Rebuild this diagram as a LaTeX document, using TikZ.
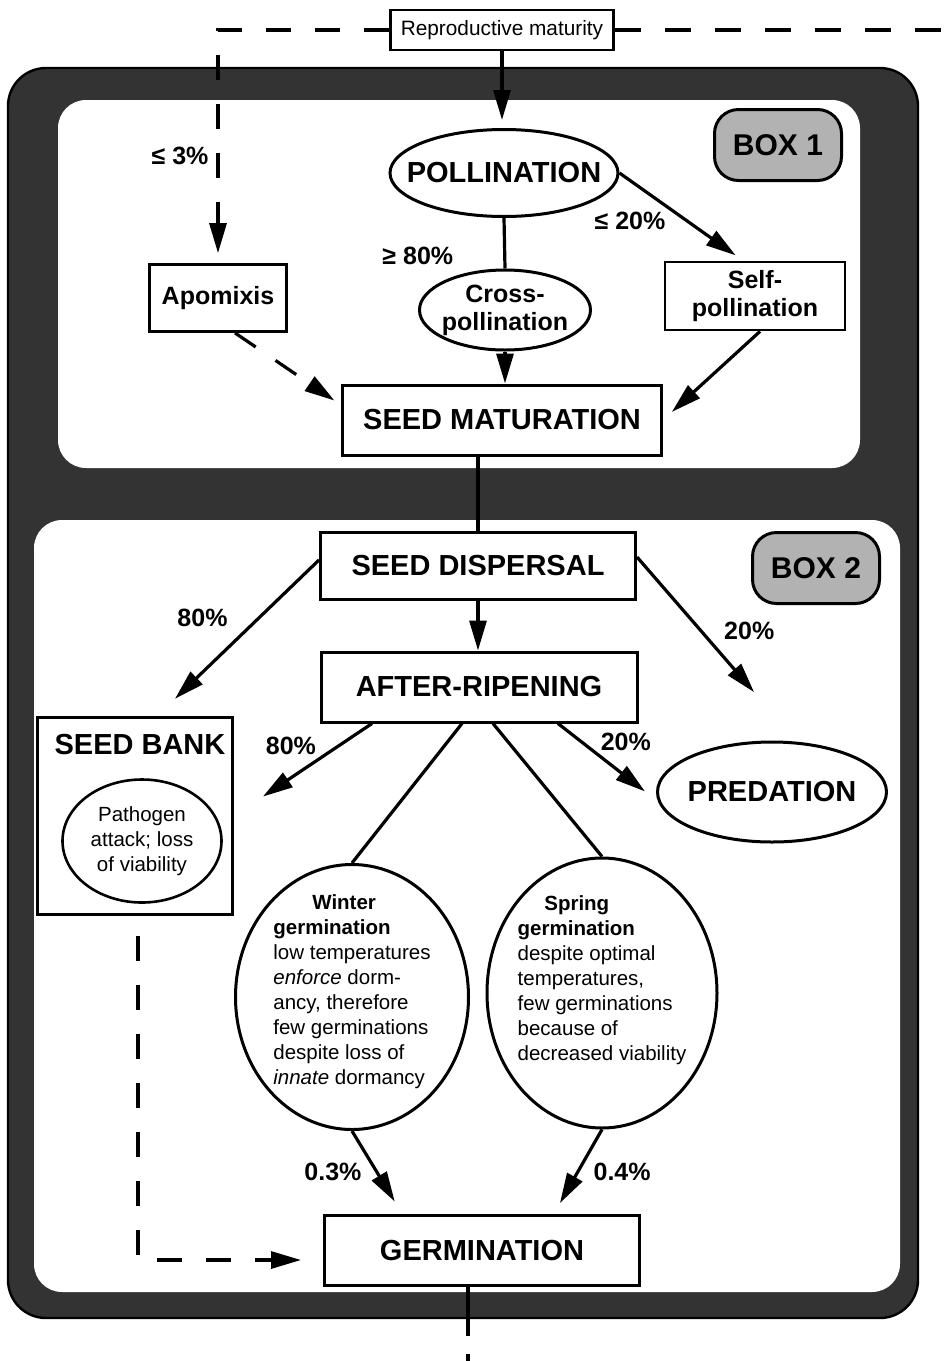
\documentclass[tikz,border=0pt]{standalone}
\usepackage{fontspec}
\setmainfont{Liberation Sans}
\usetikzlibrary{arrows.meta, positioning, shapes}

\begin{document}
\begin{tikzpicture}[
    x=1pt, y=-1pt,
    every node/.style={align=center, inner sep=0pt},
    bigfont/.style={font=\fontsize{29}{34}\selectfont\bfseries},
    midfont/.style={font=\fontsize{25}{28}\selectfont\bfseries},
    smallfont/.style={font=\fontsize{20.5}{25}\selectfont},
    pct/.style={font=\fontsize{25}{28}\selectfont\bfseries, inner sep=2pt},
    darkframe/.style={fill=black!80, draw=black, line width=2.4pt, rounded corners=38pt},
    panel/.style={fill=white, rounded corners=28pt},
    stage/.style={draw, rectangle, line width=3pt, bigfont},
    substage/.style={draw, rectangle, line width=2.8pt, midfont},
    oval/.style={draw, ellipse, line width=3pt},
    boxtag/.style={draw, rounded corners=24pt, fill=black!30, line width=3pt,
                   minimum width=127pt, minimum height=71pt,
                   font=\fontsize{30}{34}\selectfont\bfseries},
    arr/.style={-{Triangle[length=30pt, width=17pt]}, line width=3.2pt},
    dasharr/.style={arr, dash pattern=on 25pt off 24pt},
    dashline/.style={line width=3.2pt, dash pattern=on 26pt off 24pt},
    link/.style={line width=3.2pt}
]
\useasboundingbox (0,0) rectangle (944,1361);
\draw[darkframe] (8,68) rectangle (918,1318);
\fill[panel] (58,100) rectangle (860,468);
\fill[panel] (34,520) rectangle (900,1292);

\node[draw, line width=2.4pt, minimum width=223pt, minimum height=40pt,
      font=\fontsize{20.8}{24}\selectfont] (repro) at (502,30) {Reproductive maturity};
\node[boxtag] (box1) at (778,145) {BOX 1};
\node[boxtag] (box2) at (816,568) {BOX 2};
\node[oval, minimum width=228pt, minimum height=87pt,
      label={[bigfont]center:POLLINATION}] (poll) at (504,173) {};
\node[oval, minimum width=171pt, minimum height=80pt,
      label={[midfont]center:Cross-\\pollination}] (cross) at (505,310) {};
\node[substage, minimum width=137pt, minimum height=67pt] (apomix) at (218,298) {Apomixis};
\node[substage, minimum width=180pt, minimum height=68pt] (self) at (755,296) {Self-\\pollination};
\node[stage, minimum width=319pt, minimum height=70pt] (seedmat) at (502,420) {SEED MATURATION};
\node[stage, minimum width=315pt, minimum height=67pt] (seeddisp) at (478,566) {SEED DISPERSAL};
\node[stage, minimum width=316pt, minimum height=70pt] (afterrip) at (479,687) {AFTER-RIPENING};
\node[draw, line width=2.8pt, minimum width=195pt, minimum height=197pt] (seedbank) at (135,816) {};
\node[bigfont] (banktitle) at (140,745) {SEED BANK};
\node[oval, line width=2.6pt, minimum width=159pt, minimum height=123pt, smallfont]
      (pathogen) at (142,841) {Pathogen\\attack; loss\\of viability};
\node[oval, minimum width=229pt, minimum height=100pt,
      label={[bigfont]center:PREDATION}] (pred) at (772,792) {};
\node[oval, minimum width=233pt, minimum height=265pt,
      label={[smallfont, align=left, yshift=5pt]center:{\hspace*{1.9em}\textbf{Winter}\\
      \textbf{germination}\\low temperatures\\\textit{enforce} dorm-\\ancy, therefore\\
      few germinations\\despite loss of\\\textit{innate} dormancy}}] (winter) at (352,997) {};
\node[oval, minimum width=230pt, minimum height=270pt,
      label={[smallfont, align=left, yshift=13pt]center:{\hspace*{1.3em}\textbf{Spring}\\
      \textbf{germination}\\despite optimal\\temperatures,\\few germinations\\
      because of\\decreased viability}}] (spring) at (602,993) {};
\node[stage, minimum width=315pt, minimum height=70pt] (germ) at (482,1250) {GERMINATION};
\coordinate (rightend) at (944,30);
\coordinate (exit) at (468,1361);

\draw[arr, shorten >=8pt] (repro.south) -- (repro.south |- poll.north);
\draw[dasharr, shorten >=10pt] (repro.west) -| node[pct, left=6pt, pos=0.77] {≤ 3\%} (apomix.north);
\draw[dashline] (repro.east) -- (rightend);
\draw[arr, shorten >=9pt] (poll.east) -- node[pct, below left, pos=0.4] {≤ 20\%} ([xshift=-12pt]self.north);
\draw[link] (poll.south) -- node[pct, left=48pt, pos=0.75] {≥ 80\%} (cross.north);
\draw[arr] (cross.south) -- (cross.south |- seedmat.north);
\draw[dasharr, shorten >=8pt] ([xshift=17pt]apomix.south) -- ([yshift=15pt]seedmat.west);
\draw[arr, shorten >=12pt] ([xshift=5pt]self.south) -- (seedmat.east);
\draw[link] (seedmat.south -| seeddisp.north) -- (seeddisp.north);
\draw[arr] (seeddisp.south) -- (seeddisp.south |- afterrip.north);
\draw[arr, shorten >=25pt] ([yshift=6pt]seeddisp.west) -- node[pct, above left, pos=0.45, xshift=-15pt] {80\%} ([xshift=22pt]seedbank.north);
\draw[arr, shorten >=64pt] ([yshift=9pt]seeddisp.east) -- node[pct, right=20pt, pos=0.4] {20\%} ([xshift=24pt]pred.north);
\draw[arr, shorten >=35pt] ([xshift=-107pt]afterrip.south) -- node[pct, above left, pos=0.38] {80\%} (seedbank.east);
\draw[arr, shorten >=14pt] ([xshift=79pt]afterrip.south) -- node[pct, above right, pos=0.4] {20\%} ([yshift=-8pt]pred.west);
\draw[link] ([xshift=-17pt]afterrip.south) -- (winter.north);
\draw[link] ([xshift=14pt]afterrip.south) -- (spring.north);
\draw[arr, shorten >=14pt] (winter.south) -- node[pct, left=12pt, pos=0.5] {0.3\%} ([xshift=-80pt]germ.north);
\draw[arr, shorten >=12pt] (spring.south) -- node[pct, right=12pt, pos=0.5] {0.4\%} ([xshift=72pt]germ.north);
\draw[dasharr, shorten <=20pt, shorten >=22pt] ([xshift=3pt]seedbank.south) |- ([yshift=-10pt]germ.west);
\draw[link, dash pattern=on 49pt off 18pt] ([xshift=-14pt]germ.south) -- (exit);
\end{tikzpicture}
\end{document}
